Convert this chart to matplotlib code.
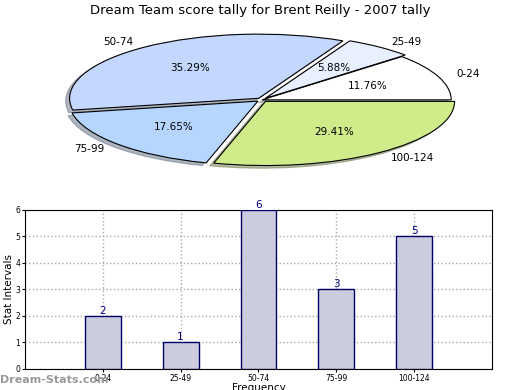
import matplotlib
matplotlib.use("Agg")
import matplotlib.pyplot as plt

categories = ["0-24", "25-49", "50-74", "75-99", "100-124"]
counts = [2, 1, 6, 3, 5]
pie_colors = ["#ffffff", "#e8f0ff", "#c4d8ff", "#b6d6ff", "#d0eb8a"]
explode = [0.0, 0.03, 0.03, 0.03, 0.03]

fig = plt.figure(figsize=(5.2, 3.9), dpi=100)

# Pie (stretched into an ellipse)
ax1 = fig.add_axes([0.104, 0.563, 0.80, 0.362])
wedges, texts, autotexts = ax1.pie(
    counts, labels=categories, colors=pie_colors, explode=explode,
    autopct="%.2f%%", startangle=0,
    shadow={"ox": -0.015, "oy": -0.03, "shade": 0.5},
    wedgeprops={"edgecolor": "black", "linewidth": 0.8},
    textprops={"fontsize": 7.5},
)
ax1.set_aspect("auto")
ax1.set_xlim(-1.1, 1.1)
ax1.set_ylim(-1.1, 1.1)
fig.text(0.5, 0.972, "Dream Team score tally for Brent Reilly - 2007 tally",
         ha="center", va="center", fontsize=9.5)

# Bars
ax2 = fig.add_axes([0.048, 0.054, 0.898, 0.408])
x = list(range(1, len(categories) + 1))
ax2.bar(x, counts, width=0.46, color="#ccccdf", edgecolor="#000066", linewidth=1, zorder=3)
for xi, c in zip(x, counts):
    ax2.text(xi, c, str(c), ha="center", va="bottom", color="#000080", fontsize=7.5, zorder=4)
ax2.set_xlim(0, 6)
ax2.set_ylim(0, 6)
ax2.set_xticks(x)
ax2.set_xticklabels(categories)
ax2.set_yticks(range(7))
ax2.tick_params(labelsize=5.5, length=2, pad=1.5)
ax2.grid(True, linestyle=":", color="#aaaaaa", linewidth=1, zorder=0)
ax2.set_ylabel("Stat Intervals", fontsize=7.5, labelpad=1)
ax2.set_xlabel("Frequency", fontsize=7.5, labelpad=0)

fig.text(0.0, 0.025, "Dream-Stats.com", fontsize=8, color="#999999",
         fontweight="bold", ha="left", va="center")

fig.savefig("out.png", dpi=100)
